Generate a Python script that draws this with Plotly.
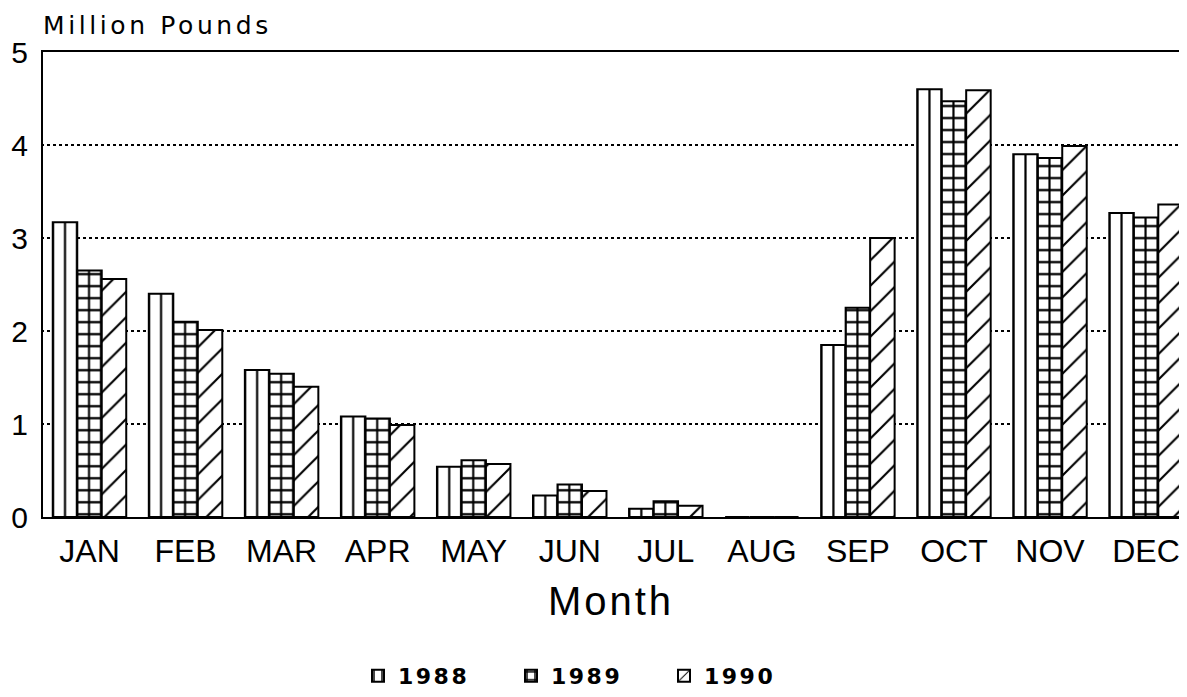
import plotly.graph_objects as go

months = ["JAN", "FEB", "MAR", "APR", "MAY", "JUN", "JUL", "AUG", "SEP", "OCT", "NOV", "DEC"]
y1988 = [3.17, 2.40, 1.58, 1.08, 0.54, 0.23, 0.09, 0.0, 1.85, 4.60, 3.90, 3.27]
y1989 = [2.65, 2.10, 1.54, 1.06, 0.61, 0.35, 0.17, 0.0, 2.25, 4.47, 3.86, 3.22]
y1990 = [2.56, 2.01, 1.40, 0.99, 0.57, 0.28, 0.12, 0.0, 3.00, 4.59, 3.99, 3.36]
series = [("1988", y1988, "|", 12.006, 0.18), ("1989", y1989, "+", 12.006, 0.32), ("1990", y1990, "/", 18, 0.12)]
yticks = [0, 1, 2, 3, 4, 5]

fig = go.Figure()
for name, vals, shape, size, sol in series:
    fig.add_trace(go.Bar(
        x=months, y=vals,
        name='<span style="letter-spacing:2.5px">%s</span>' % name,
        marker=dict(color="white", line=dict(color="black", width=2),
                    pattern=dict(shape=shape, size=size, solidity=sol,
                                 fgcolor="black", fgopacity=1, bgcolor="white",
                                 fillmode="overlay")),
    ))

# page body has an 8px margin: figure sized/offset to compensate.
# plot area starts 7px left of the y axis line so hatch patterns line up with bars.
PW = 1152.0
fig.update_layout(
    width=1179, height=689,
    paper_bgcolor="white", plot_bgcolor="white",
    margin=dict(l=27, r=0, t=44, b=180, autoexpand=False),
    barmode="group", bargap=0.235, bargroupgap=0,
    font=dict(family="Liberation Sans, Arial, sans-serif", color="black"),
    showlegend=True,
    legend=dict(orientation="h", x=(358 - 35) / PW, xanchor="left",
                y=(517 - 655) / 465, yanchor="top",
                font=dict(family="DejaVu Sans", size=22, color="black", weight="bold"),
                entrywidth=108, entrywidthmode="pixels",
                bgcolor="rgba(0,0,0,0)", traceorder="normal"),
    xaxis=dict(
        range=[-0.5674, 11.4264], showgrid=False, zeroline=False,
        showline=True, linecolor="black", linewidth=2, mirror=True,
        ticks="", ticklabelstandoff=5, tickfont=dict(size=32, family="Liberation Sans"),
        title=dict(text='<span style="letter-spacing:3px">Month</span>',
                   font=dict(size=40, family="Liberation Sans"), standoff=19),
    ),
    yaxis=dict(
        anchor="free", position=7 / PW,
        range=[0, 5], tickvals=yticks, ticktext=[str(v) for v in yticks],
        showgrid=True, gridcolor="black", griddash="dot", gridwidth=1.5,
        zeroline=False, showline=True, linecolor="black", linewidth=2,
        ticks="", ticklabelstandoff=7,
        tickfont=dict(size=30, family="Liberation Sans"),
    ),
    shapes=[dict(type="rect", xref="paper", yref="paper",
                 x0=-0.002, x1=6 / PW, y0=-0.02, y1=1.02,
                 fillcolor="white", line=dict(width=0), layer="above")],
    annotations=[dict(
        text='<span style="letter-spacing:3.6px">Million Pounds</span>',
        xref="paper", yref="paper", x=6 / PW, y=1 + (52 - 42) / 465,
        xanchor="left", yanchor="bottom", showarrow=False,
        font=dict(family="DejaVu Sans", size=25, color="black"),
    )],
)

fig.write_html("out.html")
